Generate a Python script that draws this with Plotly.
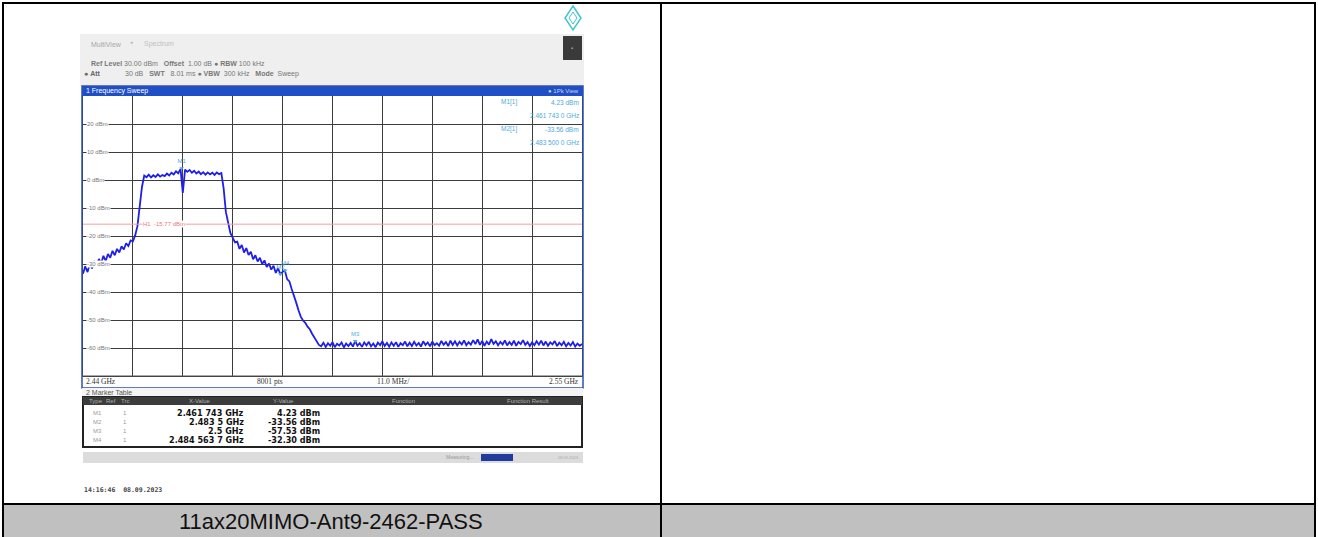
import plotly.graph_objects as go

W, H = 1318, 537

# sweep: 2.44 GHz .. 2.55 GHz, values read every 0.5 MHz
freq_start_mhz = 2440.0
freq_step_mhz = 0.5

lvl_left_skirt = [
    -33.5, -30.8, -32.9, -29.9, -31.6, -28.9, -30.7, -28.2, -29.8, -27.1,
    -28.9, -26.4, -27.8, -25.3, -26.9, -24.6, -25.9, -23.7, -24.8, -22.6,
    -23.6, -21.6, -21.9, -19.8,
]
lvl_rise = [-16.5, -10.2, -2.5, 1.6]
lvl_top = [
    1.0, 1.9, 0.9, 1.7, 1.1, 2.0, 1.2, 1.8, 1.4, 2.3,
    1.6, 2.6, 2.0, 3.1, 2.4, 3.9, -4.6, 3.7, 2.9, 3.6,
    2.6, 3.3, 2.3, 3.0, 2.1, 2.8, 1.9, 2.7, 2.0, 2.6,
    1.8, 2.7, 2.1, 2.5,
]
lvl_drop = [-3.0, -11.5, -15.8, -19.0, -20.6, -22.3]
lvl_right_skirt = [
    -22.0, -24.6, -23.2, -25.9, -24.3, -26.8, -25.6, -28.3, -26.9, -29.1,
    -27.8, -30.0, -28.7, -31.1, -29.8, -32.0, -30.6, -33.2, -31.5, -33.6,
    -32.8, -32.3, -35.4, -36.2, -38.9,
]
lvl_fall = [-41.0, -43.8, -46.5, -48.8, -50.2, -51.0, -52.4, -53.3, -54.9, -56.2, -57.6, -58.9]
lvl_floor = [
    -59.4, -58.1, -59.6, -58.3, -59.2, -57.9, -59.7, -58.5, -59.1, -58.0,
    -59.8, -58.4, -59.3, -58.2, -59.5, -57.5, -59.2, -58.3, -59.6, -58.0,
    -59.1, -57.8, -59.4, -58.4, -59.7, -58.1, -59.0, -57.6, -59.3, -58.2,
    -59.5, -58.0, -59.2, -57.9, -59.6, -58.3, -59.0, -57.7, -59.4, -58.1,
    -59.3, -57.8, -59.1, -58.2, -59.5, -57.6, -58.9, -58.0, -59.4, -57.7,
    -59.0, -58.3, -59.2, -57.5, -58.8, -57.9, -59.3, -57.4, -58.9, -57.6,
    -59.1, -57.8, -58.7, -57.3, -59.0, -57.9, -58.8, -57.2, -58.6, -56.9,
    -58.9, -57.5, -59.2, -57.7, -58.8, -56.8, -58.5, -57.6, -59.0, -57.8,
    -58.7, -57.3, -59.1, -57.9, -58.9, -57.4, -59.2, -57.8, -58.6, -57.2,
    -58.9, -57.9, -59.3, -58.0, -59.0, -57.6, -58.8, -57.4, -59.1, -57.7,
    -59.2, -58.0, -58.7, -57.5, -59.3, -58.1, -59.0, -57.8, -59.4, -58.2,
    -59.1, -57.9, -59.5, -58.4, -59.2, -58.6,
]
level_dbm = lvl_left_skirt + lvl_rise + lvl_top + lvl_drop + lvl_right_skirt + lvl_fall + lvl_floor
assert len(level_dbm) == 221, len(level_dbm)
freq_ghz = [(freq_start_mhz + i * freq_step_mhz) / 1000 for i in range(len(level_dbm))]

marker_names = ["M1", "M2", "M3", "M4"]
marker_freq_ghz = [2.461743, 2.4835, 2.5, 2.4845637]
marker_level_dbm = [4.23, -33.56, -57.53, -32.30]
marker_x_text = ["2.461 743 GHz", "2.483 5 GHz", "2.5 GHz", "2.484 563 7 GHz"]
marker_y_text = ["4.23 dBm", "-33.56 dBm", "-57.53 dBm", "-32.30 dBm"]

display_line_dbm = -15.77
ytick_dbm = [20, 10, 0, -10, -20, -30, -40, -50, -60]
caption = "11ax20MIMO-Ant9-2462-PASS"

BLUE = "#1f1fe6"
MKBLUE = "#4fa9dd"
SMALL = "Liberation Sans, Arial, sans-serif"
NARROW = "Liberation Sans Narrow, DejaVu Sans Condensed, Arial Narrow, sans-serif"

shapes = []
annotations = []


def rect(x0, y0, x1, y1, fill=None, line=None, lw=1):
    shapes.append(dict(
        type="rect", xref="paper", yref="paper",
        x0=x0 / W, x1=x1 / W, y0=1 - y1 / H, y1=1 - y0 / H,
        fillcolor=fill or "rgba(0,0,0,0)",
        line=dict(color=line or "rgba(0,0,0,0)", width=lw if line else 0),
    ))


def hline(x0, x1, y, color="black", lw=2):
    shapes.append(dict(type="line", xref="paper", yref="paper",
                       x0=x0 / W, x1=x1 / W, y0=1 - y / H, y1=1 - y / H,
                       line=dict(color=color, width=lw)))


def vline(x, y0, y1, color="black", lw=2):
    shapes.append(dict(type="line", xref="paper", yref="paper",
                       x0=x / W, x1=x / W, y0=1 - y0 / H, y1=1 - y1 / H,
                       line=dict(color=color, width=lw)))


def text(x, y, s, size=7, color="#555", anchor="left", family=SMALL, bg=None):
    annotations.append(dict(
        xref="paper", yref="paper", x=x / W, y=1 - y / H, text=s,
        showarrow=False, xanchor=anchor, yanchor="middle",
        font=dict(size=size, color=color, family=family),
        bgcolor=bg, borderpad=0,
    ))


# outer table
rect(3, 504, 1315, 537, fill="#c0c0c0")
hline(2, 1316, 3)
hline(2, 1316, 504)
vline(3, 2, 537)
vline(661, 2, 537)
vline(1315, 2, 537)
text(331, 521, caption, size=22, color="#111", anchor="center")

# analyzer header
rect(80, 34, 584, 86, fill="#efefef")
text(90, 44, "MultiView", size=7, color="#a8a8a8")
text(129, 42, "\u25cf", size=5, color="#b8b8b8")
text(143, 44, "Spectrum", size=7, color="#c0c0c0")
rect(563, 36, 582, 60, fill="#3a3a3a")
text(572, 48, "\u25aa", size=6, color="#aaa", anchor="center")
shapes.append(dict(type="path", xref="paper", yref="paper",
                   path="M {a},{b} L {c},{d} L {a},{e} L {f},{d} Z".format(
                       a=573 / W, b=1 - 6 / H, c=581 / W, d=1 - 18 / H, e=1 - 30 / H, f=565 / W),
                   line=dict(color="#3fc4cc", width=1.5)))
shapes.append(dict(type="path", xref="paper", yref="paper",
                   path="M {a},{b} L {c},{d} L {a},{e} L {f},{d} Z".format(
                       a=573 / W, b=1 - 12 / H, c=577 / W, d=1 - 18 / H, e=1 - 24 / H, f=569 / W),
                   line=dict(color="#3fc4cc", width=1)))

text(90, 63, "<b>Ref Level</b> 30.00 dBm   <b>Offset</b>  1.00 dB \u25cf <b>RBW</b> 100 kHz", size=7, color="#777")
text(83, 74, "\u25cf <b>Att</b>", size=7, color="#666")
text(124, 74, "30 dB   <b>SWT</b>   8.01 ms \u25cf <b>VBW</b>  300 kHz   <b>Mode</b>  Sweep", size=7, color="#777")

# title bar
rect(82, 86, 583, 96, fill="#1e4fc6")
text(85, 91, "1 Frequency Sweep", size=7, color="white")
text(580, 91, "\u25cf 1Pk View", size=6, color="#c8d4f0", anchor="right")

# frame around diagram
rect(82, 86, 583, 388, line="#3050b0", lw=1.5)

# y tick labels inside the grid
for v in ytick_dbm:
    annotations.append(dict(xref="paper", yref="y", x=86 / W, y=v, text=f"{v} dBm",
                            showarrow=False, xanchor="left", yanchor="middle",
                            font=dict(size=6, color="#777", family=SMALL),
                            bgcolor="white", borderpad=0))

# display line
shapes.append(dict(type="line", xref="paper", yref="y", x0=83 / W, x1=582 / W,
                   y0=display_line_dbm, y1=display_line_dbm,
                   line=dict(color="#f2a0a0", width=1)))
annotations.append(dict(xref="paper", yref="y", x=142 / W, y=display_line_dbm,
                        text="H1  -15.77 dBm", showarrow=False, xanchor="left", yanchor="middle",
                        font=dict(size=6, color="#e87878", family=SMALL), bgcolor="white", borderpad=0))

# marker info box
text(518, 102, "M1[1]", size=6.5, color=MKBLUE, anchor="right")
text(580, 102, "4.23 dBm", size=6.5, color=MKBLUE, anchor="right")
text(580, 115, "2.461 743 0 GHz", size=6.5, color=MKBLUE, anchor="right")
text(518, 129, "M2[1]", size=6.5, color=MKBLUE, anchor="right")
text(580, 129, "-33.56 dBm", size=6.5, color=MKBLUE, anchor="right")
text(580, 142, "2.483 500 0 GHz", size=6.5, color=MKBLUE, anchor="right")

# bottom info row
hline(82, 583, 376, color="#555", lw=1)
text(85, 381, "2.44 GHz", size=7.5, color="#333", family="Liberation Serif, serif")
text(270, 381, "8001 pts", size=7.5, color="#333", anchor="center", family="Liberation Serif, serif")
text(393, 381, "11.0 MHz/", size=7.5, color="#333", anchor="center", family="Liberation Serif, serif")
text(580, 381, "2.55 GHz", size=7.5, color="#333", anchor="right", family="Liberation Serif, serif")

# marker table
rect(82, 388, 583, 397, fill="#f4f4f4")
text(85, 392, "2 Marker Table", size=7, color="#555")
rect(83, 397, 582, 447, fill="white", line="#222", lw=2)
rect(83, 397, 582, 405, fill="#3c3c3c")
for x, s in [(88, "Type"), (105, "Ref"), (120, "Trc"), (200, "X-Value"), (283, "Y-Value"),
             (403, "Function"), (528, "Function Result")]:
    text(x, 401, s, size=6, color="#b0b0b0", anchor="left" if x < 130 else "center")
for i, name in enumerate(marker_names):
    y = 413 + 9 * i
    text(92, y, name, size=6, color="#999")
    text(122, y, "1", size=6, color="#999")
    text(245, y, f"<b>{marker_x_text[i]}</b>", size=9, color="#111", anchor="right", family=NARROW)
    text(321, y, f"<b>{marker_y_text[i]}</b>", size=9, color="#111", anchor="right", family=NARROW)

# status bar
rect(83, 452, 583, 463, fill="#dcdcdc")
text(475, 457, "Measuring...", size=5, color="#999", anchor="right")
rect(481, 454, 513, 461, fill="#1f3c9c")
text(580, 457, "08.09.2023", size=4, color="#aaa", anchor="right")

text(83, 490, "<b>14:16:46  08.09.2023</b>", size=6.5, color="#444", family="DejaVu Sans Mono, monospace")

fig = go.Figure()
fig.add_trace(go.Scatter(x=freq_ghz, y=level_dbm, mode="lines",
                         line=dict(color=BLUE, width=1.8), hoverinfo="skip"))
fig.add_trace(go.Scatter(x=marker_freq_ghz, y=marker_level_dbm, mode="markers+text",
                         text=marker_names, textposition="top center",
                         textfont=dict(size=6, color=MKBLUE, family=SMALL),
                         marker=dict(symbol="triangle-down", size=4, color=MKBLUE)))

fig.update_layout(
    width=W, height=H,
    margin=dict(l=0, r=0, t=0, b=0),
    paper_bgcolor="white", plot_bgcolor="white",
    showlegend=False,
    shapes=shapes, annotations=annotations,
    xaxis=dict(domain=[83 / W, 582 / W], range=[2.44, 2.55], tick0=2.44, dtick=0.011,
               showgrid=True, gridcolor="#3c3c3c", gridwidth=1, zeroline=False,
               showticklabels=False, ticks="", showline=True, mirror=True,
               linecolor="#333", linewidth=1),
    yaxis=dict(domain=[1 - 376 / H, 1 - 96 / H], range=[-70, 30], tick0=0, dtick=10,
               showgrid=True, gridcolor="#3c3c3c", gridwidth=1, zeroline=False,
               showticklabels=False, ticks="", showline=True, mirror=True,
               linecolor="#333", linewidth=1),
)

fig.write_html("out.html", config={"displayModeBar": False},
               post_script="document.body.style.margin='0';document.body.style.overflow='hidden';")
